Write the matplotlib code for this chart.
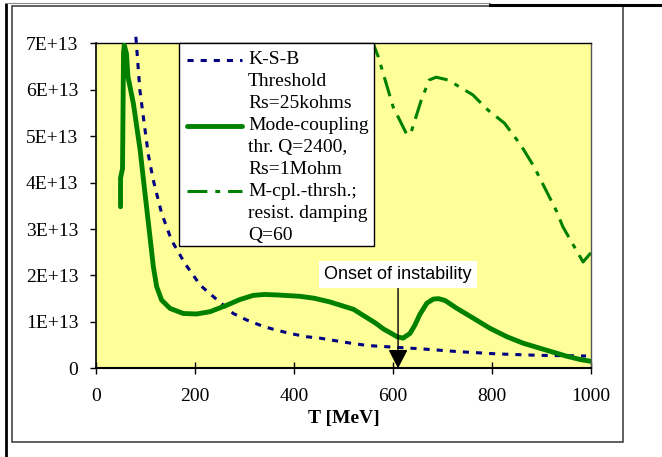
import matplotlib
matplotlib.use('Agg')
import matplotlib.pyplot as plt
from matplotlib.patches import Rectangle
from matplotlib.lines import Line2D
import numpy as np

# K-S-B threshold, Rs=25kohms  (T in MeV, intensity in units of 1E+13)
ksb_T = [80, 88, 95, 105, 115, 132, 152, 179, 193, 210, 237, 257, 277, 304, 338,
         365, 392, 425, 452, 474, 515, 549, 609, 656, 730, 811, 892, 990]
ksb_I = [7.14, 6.0, 5.42, 4.61, 4.06, 3.34, 2.76, 2.26, 2.05, 1.79, 1.54, 1.36, 1.18,
         1.04, 0.90, 0.82, 0.75, 0.68, 0.65, 0.61, 0.54, 0.49, 0.45, 0.42, 0.36,
         0.31, 0.28, 0.265]

# mode-coupling threshold, Q=2400, Rs=1Mohm
mc_T = [49, 49, 53, 55, 56.5, 61, 64, 75, 88.6, 98.4, 108.5, 115.3, 122, 132, 149,
        176, 203, 230, 264, 290, 317, 340, 365, 412, 440, 472, 520, 547, 565, 580,
        595, 608, 620, 634, 644, 654, 668, 681, 692, 705, 729, 762, 796, 830, 863,
        910, 951, 978, 1000]
mc_I = [3.48, 4.1, 4.3, 6.8, 6.96, 6.78, 6.28, 5.7, 4.70, 3.77, 2.83, 2.19, 1.76,
        1.47, 1.29, 1.18, 1.17, 1.22, 1.36, 1.48, 1.57, 1.59, 1.58, 1.55, 1.51, 1.43,
        1.27, 1.09, 0.97, 0.85, 0.76, 0.68, 0.65, 0.75, 0.93, 1.16, 1.40, 1.49, 1.50,
        1.46, 1.29, 1.08, 0.86, 0.68, 0.54, 0.39, 0.26, 0.19, 0.15]

# mode-coupling threshold with resistive damping, Q=60
rd_T = [556, 570, 600, 628, 636, 657, 673, 687, 711, 761, 792, 825, 858, 885, 913,
        931, 943, 964, 984, 1000]
rd_I = [7.1, 6.71, 5.63, 5.03, 5.07, 5.78, 6.21, 6.27, 6.21, 5.89, 5.56, 5.28, 4.81,
        4.34, 3.75, 3.37, 3.05, 2.66, 2.29, 2.49]

onset_T = 610
onset_label = 'Onset of instability'

x_ticks = [0, 200, 400, 600, 800, 1000]
y_ticks = [0, 1, 2, 3, 4, 5, 6, 7]
y_ticklabels = ['0', '1E+13', '2E+13', '3E+13', '4E+13', '5E+13', '6E+13', '7E+13']

legend_labels = ['K-S-B\nThreshold\nRs=25kohms',
                 'Mode-coupling\nthr. Q=2400,\nRs=1Mohm',
                 'M-cpl.-thrsh.;\nresist. damping\nQ=60']

W, H = 662, 457
SCALE = 1e13

plt.rcParams['font.family'] = 'Liberation Serif'

fig = plt.figure(figsize=(W / 100, H / 100), dpi=100)
fig.patch.set_facecolor('white')

# plot area in pixels
px0, px1, py0, py1 = 96.3, 591, 43.3, 368.3
ax = fig.add_axes([px0 / W, 1 - py1 / H, (px1 - px0) / W, (py1 - py0) / H])
ax.set_facecolor('#ffff99')


def axx(px):
    return (px - px0) / (px1 - px0)


def axy(py):
    return (py1 - py) / (py1 - py0)


navy = '#000080'
green = '#008000'

ksb_style = dict(color=navy, lw=2.2, dashes=[2.0, 2.3])
mc_style = dict(color=green, lw=3.5, solid_capstyle='round', solid_joinstyle='round')
rd_style = dict(color=green, lw=2.2, dashes=[6.5, 2.6, 1.6, 2.6])

ax.plot(ksb_T, np.array(ksb_I) * SCALE, clip_on=False, zorder=3, **ksb_style)
ax.plot(mc_T, np.array(mc_I) * SCALE, zorder=3, **mc_style)
ax.plot(rd_T, np.array(rd_I) * SCALE, zorder=3, **rd_style)

ax.set_xlim(0, 1000)
ax.set_ylim(0, 7 * SCALE)
ax.set_xticks(x_ticks)
ax.set_yticks(np.array(y_ticks) * SCALE)
ax.set_yticklabels(y_ticklabels)
ax.tick_params(axis='y', direction='out', length=4.3, width=1, pad=8.6, labelsize=14)
ax.tick_params(axis='x', direction='inout', length=8.6, width=1, pad=10, labelsize=14)

for side in ['left', 'bottom', 'top']:
    ax.spines[side].set_color('black')
ax.spines['left'].set_linewidth(1.2)
ax.spines['bottom'].set_linewidth(1.5)
ax.spines['top'].set_linewidth(1.0)
ax.spines['right'].set_color('#555555')
ax.spines['right'].set_linewidth(1.0)

ax.set_xlabel('T [MeV]', fontsize=14, fontweight='bold', va='center')
ax.xaxis.set_label_coords(0.5, axy(419))

# legend box drawn by hand so handles sit on the first text line
ax.add_patch(Rectangle((axx(179), axy(246)), axx(374) - axx(179), axy(43.3) - axy(246),
                       transform=ax.transAxes, facecolor='white', edgecolor='black',
                       lw=1, zorder=5, clip_on=False))
row_h = 21.9
styles = [ksb_style, mc_style, rd_style]
for i, (lab, st) in enumerate(zip(legend_labels, styles)):
    y_first = 60 + i * 3 * row_h
    ax.add_line(Line2D([axx(187), axx(242)], [axy(y_first), axy(y_first)],
                       transform=ax.transAxes, zorder=6, clip_on=False, **st))
    for k, line in enumerate(lab.split('\n')):
        ax.text(axx(248), axy(y_first + k * row_h), line, transform=ax.transAxes,
                fontsize=14, va='center', ha='left', zorder=6)

# onset annotation
ax.annotate(onset_label, xy=(onset_T, 0), xytext=(onset_T, 2.02 * SCALE),
            ha='center', va='center', fontsize=13, family='Liberation Sans', zorder=7,
            bbox=dict(boxstyle='square,pad=0.3', fc='white', ec='none'),
            arrowprops=dict(arrowstyle='-|>,head_width=0.3,head_length=0.58',
                            mutation_scale=20, color='black', lw=1,
                            shrinkA=0, shrinkB=0))

# page frame around the chart
fig.add_artist(Rectangle((12 / W, 1 - 442 / H), 611 / W, 436 / H, transform=fig.transFigure,
                         fill=False, edgecolor='#444444', lw=1.2))
fig.add_artist(Line2D([6 / W, 6 / W], [0, 1 - 4 / H], transform=fig.transFigure,
                      color='black', lw=2))
fig.add_artist(Line2D([5 / W, 490 / W], [1 - 3 / H, 1 - 3 / H], transform=fig.transFigure,
                      color='#888888', lw=0.8))
fig.add_artist(Line2D([490 / W, 1], [1 - 5 / H, 1 - 5 / H], transform=fig.transFigure,
                      color='black', lw=2.2))

fig.savefig('out.png', dpi=100)
